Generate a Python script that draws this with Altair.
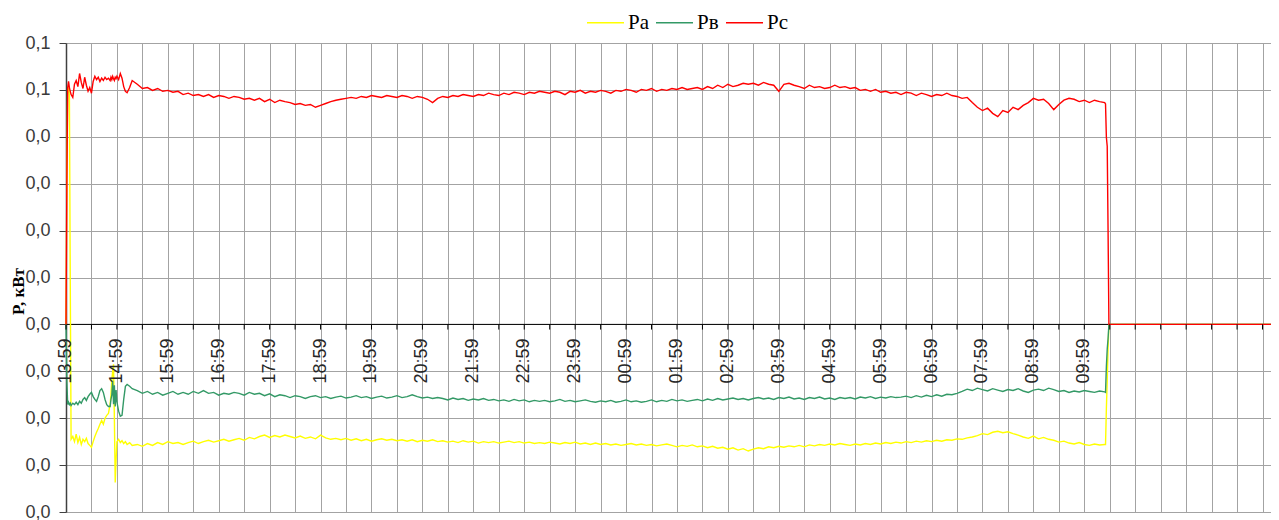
import altair as alt
import pandas as pd

# ---------------- data ----------------
series_names = ["Pa", "Pв", "Pc"]
series_colors = ["#FFFF00", "#339966", "#FF0000"]

# minutes after 13:59
early_minutes = [0, 1, 2, 3, 4, 5, 6, 8, 10, 12, 14, 16, 18, 20, 22, 24, 26, 28, 30, 32,
                 34, 36, 38, 40, 42, 44, 46, 48, 50, 52, 53, 54, 55, 56, 57, 58, 59,
                 60, 62, 64, 66, 68, 70, 72, 75, 78]
grid_minutes = list(range(84, 1225, 6))
drop_minutes = [1225, 1226, 1227, 1228, 1229, 1420]

pa_early = [0.0, 0.0300, 0.0500, 0.0505, 0.0490, 0.0100, -0.0245,
            -0.0239, -0.0250, -0.0234, -0.0252, -0.0241, -0.0256, -0.0245, -0.0250, -0.0243, -0.0254,
            -0.0258, -0.0262, -0.0250, -0.0239, -0.0230, -0.0222, -0.0213, -0.0205, -0.0213, -0.0200,
            -0.0194, -0.0190, -0.0170,
            -0.0150, -0.0120, -0.0100, -0.0085, -0.0200, -0.0337, -0.0290,
            -0.0250, -0.0245, -0.0252, -0.0248, -0.0254, -0.0250, -0.0256,
            -0.0252, -0.0258]
pa_grid = [
    -0.0256, -0.0260, -0.0254, -0.0258, -0.0252, -0.0256, -0.0250, -0.0254, -0.0252, -0.0256,
    -0.0252, -0.0249, -0.0254, -0.0250, -0.0247, -0.0251, -0.0248, -0.0245, -0.0249, -0.0246,
    -0.0243, -0.0247, -0.0241, -0.0244, -0.0239, -0.0236, -0.0241, -0.0237, -0.0240, -0.0236,
    -0.0239, -0.0242, -0.0238, -0.0243, -0.0240, -0.0244, -0.0236, -0.0242, -0.0245, -0.0243,
    -0.0246, -0.0243, -0.0247, -0.0244, -0.0248, -0.0245, -0.0249, -0.0246, -0.0244, -0.0247,
    -0.0245, -0.0248, -0.0246, -0.0249, -0.0246, -0.0250, -0.0247, -0.0249, -0.0246, -0.0250,
    -0.0248, -0.0251, -0.0249, -0.0252, -0.0248, -0.0251, -0.0249, -0.0253, -0.0250, -0.0252,
    -0.0250, -0.0253, -0.0251, -0.0249, -0.0252, -0.0250, -0.0253, -0.0251, -0.0254, -0.0252,
    -0.0254, -0.0251, -0.0253, -0.0255, -0.0252, -0.0254, -0.0251, -0.0255, -0.0253, -0.0256,
    -0.0253, -0.0256, -0.0254, -0.0257, -0.0255, -0.0258, -0.0256, -0.0254, -0.0257, -0.0255,
    -0.0258, -0.0256, -0.0259, -0.0257, -0.0255, -0.0258, -0.0261, -0.0258, -0.0260, -0.0257,
    -0.0261, -0.0259, -0.0263, -0.0260, -0.0264, -0.0262, -0.0266, -0.0263, -0.0268, -0.0265,
    -0.0270, -0.0266, -0.0263, -0.0265, -0.0261, -0.0263, -0.0260, -0.0262, -0.0259, -0.0261,
    -0.0258, -0.0261, -0.0257, -0.0259, -0.0256, -0.0258, -0.0255, -0.0257, -0.0254, -0.0256,
    -0.0258, -0.0255, -0.0257, -0.0254, -0.0256, -0.0253, -0.0255, -0.0252, -0.0254, -0.0251,
    -0.0253, -0.0250, -0.0252, -0.0249, -0.0251, -0.0248, -0.0250, -0.0247, -0.0249, -0.0246,
    -0.0247, -0.0244, -0.0245, -0.0242, -0.0240, -0.0237, -0.0233, -0.0235, -0.0230, -0.0228,
    -0.0231, -0.0229, -0.0233, -0.0236, -0.0240, -0.0243, -0.0238, -0.0244, -0.0241, -0.0245,
    -0.0247, -0.0251, -0.0249, -0.0253, -0.0255, -0.0252, -0.0256, -0.0258, -0.0255, -0.0257,
    -0.0256]
pa_drop = [-0.0256, -0.0180, -0.0120, -0.0050, 0.0, 0.0]

pb_early = [0.0, -0.0120, -0.0171, -0.0166, -0.0171, -0.0168, -0.0173,
            -0.0168, -0.0171, -0.0166, -0.0171, -0.0164, -0.0168, -0.0160, -0.0156, -0.0162, -0.0154,
            -0.0149, -0.0145, -0.0154, -0.0160, -0.0164, -0.0154, -0.0141, -0.0137, -0.0145, -0.0160,
            -0.0171, -0.0175, -0.0175,
            -0.0160, -0.0150, -0.0120, -0.0170, -0.0130, -0.0175, -0.0140,
            -0.0165, -0.0185, -0.0196, -0.0194, -0.0160, -0.0132, -0.0128,
            -0.0132, -0.0137]
pb_grid = [
    -0.0141, -0.0147, -0.0143, -0.0149, -0.0145, -0.0151, -0.0147, -0.0143, -0.0149, -0.0145,
    -0.0149, -0.0143, -0.0147, -0.0141, -0.0147, -0.0145, -0.0151, -0.0147, -0.0149, -0.0145,
    -0.0147, -0.0151, -0.0145, -0.0149, -0.0147, -0.0152, -0.0148, -0.0154, -0.0150, -0.0152,
    -0.0156, -0.0152, -0.0154, -0.0158, -0.0154, -0.0152, -0.0156, -0.0154, -0.0158, -0.0155,
    -0.0153, -0.0157, -0.0155, -0.0152, -0.0156, -0.0154, -0.0158, -0.0155, -0.0153, -0.0157,
    -0.0155, -0.0152, -0.0156, -0.0154, -0.0150, -0.0154, -0.0157, -0.0155, -0.0158, -0.0156,
    -0.0158, -0.0161, -0.0157, -0.0160, -0.0158, -0.0162, -0.0159, -0.0161, -0.0158, -0.0162,
    -0.0160, -0.0163, -0.0161, -0.0164, -0.0160, -0.0163, -0.0161, -0.0165, -0.0162, -0.0164,
    -0.0162, -0.0165, -0.0163, -0.0160, -0.0164, -0.0162, -0.0165, -0.0163, -0.0161, -0.0164,
    -0.0166, -0.0163, -0.0165, -0.0162, -0.0166, -0.0164, -0.0161, -0.0165, -0.0163, -0.0166,
    -0.0164, -0.0161, -0.0165, -0.0162, -0.0164, -0.0160, -0.0163, -0.0161, -0.0164, -0.0162,
    -0.0160, -0.0163, -0.0159, -0.0162, -0.0158, -0.0161, -0.0159, -0.0157, -0.0160, -0.0158,
    -0.0161, -0.0158, -0.0156, -0.0159, -0.0157, -0.0160, -0.0156, -0.0158, -0.0155, -0.0159,
    -0.0157, -0.0160, -0.0156, -0.0158, -0.0155, -0.0159, -0.0157, -0.0160, -0.0156, -0.0158,
    -0.0156, -0.0159, -0.0155, -0.0157, -0.0154, -0.0158, -0.0155, -0.0157, -0.0154, -0.0156,
    -0.0155, -0.0153, -0.0156, -0.0152, -0.0155, -0.0151, -0.0154, -0.0150, -0.0153, -0.0149,
    -0.0150, -0.0147, -0.0143, -0.0138, -0.0141, -0.0136, -0.0139, -0.0142, -0.0137, -0.0140,
    -0.0143, -0.0139, -0.0141, -0.0137, -0.0142, -0.0145, -0.0140, -0.0138, -0.0141, -0.0136,
    -0.0139, -0.0143, -0.0141, -0.0145, -0.0142, -0.0144, -0.0141, -0.0143, -0.0145, -0.0142,
    -0.0144]
pb_drop = [-0.0145, -0.0090, -0.0053, -0.0030, 0.0, 0.0]

pc_early = [0.0, 0.0300, 0.0505, 0.0518, 0.0505, 0.0497, 0.0490,
            0.0484, 0.0512, 0.0520, 0.0507, 0.0535, 0.0516, 0.0503, 0.0527, 0.0510, 0.0497,
            0.0505, 0.0493, 0.0518, 0.0529, 0.0522, 0.0527, 0.0518, 0.0525, 0.0520, 0.0527,
            0.0522, 0.0525, 0.0520,
            0.0527, 0.0522, 0.0529, 0.0524, 0.0520, 0.0527, 0.0524,
            0.0529, 0.0522, 0.0535, 0.0525, 0.0507, 0.0497, 0.0494,
            0.0505, 0.0520]
pc_grid = [
    0.0512, 0.0503, 0.0505, 0.0499, 0.0503, 0.0497, 0.0499, 0.0495, 0.0497, 0.0490,
    0.0493, 0.0488, 0.0490, 0.0486, 0.0490, 0.0484, 0.0488, 0.0486, 0.0482, 0.0486,
    0.0484, 0.0480, 0.0482, 0.0478, 0.0482, 0.0475, 0.0480, 0.0473, 0.0478, 0.0475,
    0.0473, 0.0469, 0.0471, 0.0467, 0.0469, 0.0463, 0.0467, 0.0471, 0.0475, 0.0478,
    0.0480, 0.0482, 0.0484, 0.0482, 0.0486, 0.0484, 0.0488, 0.0486, 0.0484, 0.0488,
    0.0486, 0.0484, 0.0488, 0.0486, 0.0482, 0.0486, 0.0484, 0.0480, 0.0473, 0.0482,
    0.0486, 0.0484, 0.0488, 0.0486, 0.0490, 0.0488, 0.0486, 0.0490, 0.0488, 0.0493,
    0.0490, 0.0488, 0.0493, 0.0490, 0.0495, 0.0493, 0.0490, 0.0495, 0.0493, 0.0497,
    0.0495, 0.0493, 0.0497, 0.0495, 0.0490, 0.0497, 0.0495, 0.0499, 0.0493, 0.0497,
    0.0495, 0.0499, 0.0497, 0.0493, 0.0499, 0.0497, 0.0501, 0.0499, 0.0495, 0.0501,
    0.0499, 0.0503, 0.0497, 0.0501, 0.0499, 0.0503, 0.0501, 0.0505, 0.0501, 0.0503,
    0.0505, 0.0501, 0.0507, 0.0503, 0.0510, 0.0505, 0.0512, 0.0507, 0.0510, 0.0514,
    0.0512, 0.0514, 0.0510, 0.0516, 0.0512, 0.0510, 0.0497, 0.0512, 0.0514, 0.0510,
    0.0507, 0.0503, 0.0510, 0.0505, 0.0507, 0.0503, 0.0505, 0.0510, 0.0505, 0.0507,
    0.0503, 0.0505, 0.0499, 0.0501, 0.0497, 0.0501, 0.0495, 0.0497, 0.0493, 0.0495,
    0.0490, 0.0495, 0.0493, 0.0488, 0.0493, 0.0490, 0.0486, 0.0490, 0.0488, 0.0493,
    0.0488, 0.0486, 0.0482, 0.0484, 0.0473, 0.0463, 0.0456, 0.0461, 0.0450, 0.0443,
    0.0456, 0.0452, 0.0463, 0.0458, 0.0467, 0.0473, 0.0482, 0.0478, 0.0480, 0.0471,
    0.0458, 0.0469, 0.0478, 0.0482, 0.0480, 0.0475, 0.0478, 0.0473, 0.0478, 0.0475,
    0.0473]
pc_drop = [0.0470, 0.0399, 0.0380, 0.0200, 0.0, 0.0]

hour_labels = ["13:59", "14:59", "15:59", "16:59", "17:59", "18:59", "19:59", "20:59",
               "21:59", "22:59", "23:59", "00:59", "01:59", "02:59", "03:59", "04:59",
               "05:59", "06:59", "07:59", "08:59", "09:59"]
hour_minutes = [60 * i for i in range(len(hour_labels))]
tick_minutes = list(range(0, 1411, 30))
y_ticks = [-0.04, -0.03, -0.02, -0.01, 0.0, 0.01, 0.02, 0.03, 0.04, 0.05, 0.06]

minutes = early_minutes + grid_minutes + drop_minutes
series_values = {
    "Pa": pa_early + pa_grid + pa_drop,
    "Pв": pb_early + pb_grid + pb_drop,
    "Pc": pc_early + pc_grid + pc_drop,
}
rows = []
for name in series_names:
    vals = series_values[name]
    assert len(vals) == len(minutes), (name, len(vals), len(minutes))
    for t, v in zip(minutes, vals):
        rows.append({"t": t, "value": v, "series": name})
df = pd.DataFrame(rows)

# ---------------- chart ----------------
x_scale = alt.Scale(domain=[0, 1420], nice=False, zero=False)
y_scale = alt.Scale(domain=[-0.04, 0.06], nice=False, zero=False)

x_axis = alt.Axis(values=tick_minutes, grid=True, labels=False, ticks=False,
                  domain=False, title=None, gridColor="#a3a3a3", gridWidth=1)
y_axis = alt.Axis(values=y_ticks, labelExpr="datum.value > 0.045 ? '0,1' : '0,0'",
                  grid=True, gridColor="#a3a3a3", gridWidth=1,
                  domain=True, domainColor="#404040", domainWidth=1.5,
                  ticks=True, tickColor="#404040", tickSize=7,
                  labelFont="Liberation Sans", labelFontSize=18, labelColor="#3a3a3a",
                  labelPadding=9,
                  title="P, кВт", titleFont="Liberation Serif", titleFontSize=17,
                  titleFontWeight="bold", titleColor="#000000",
                  titleAngle=270, titleX=-48, titleY=248,
                  titleAlign="center", titleBaseline="middle")

color = alt.Color(
    "series:N",
    scale=alt.Scale(domain=series_names, range=series_colors),
    legend=alt.Legend(orient="none", legendX=520, legendY=-40, direction="horizontal",
                      title=None, symbolType="stroke", symbolSize=1369,
                      symbolStrokeWidth=1.5, labelFont="Liberation Serif",
                      labelFontSize=21, labelColor="#000000", labelOffset=3,
                      columnPadding=4),
)

base = alt.Chart(df)
line_layers = []
for name in series_names:
    line_layers.append(
        base.transform_filter(alt.datum.series == name)
        .mark_line(strokeWidth=1.4)
        .encode(
            x=alt.X("t:Q", scale=x_scale, axis=x_axis),
            y=alt.Y("value:Q", scale=y_scale, axis=y_axis),
            color=color,
        )
    )

zero_df = pd.DataFrame({"t": [0], "t2": [1420], "value": [0.0]})
zero_line = alt.Chart(zero_df).mark_rule(color="#000000", strokeWidth=1).encode(
    x=alt.X("t:Q", scale=x_scale, axis=x_axis),
    x2="t2:Q",
    y=alt.Y("value:Q", scale=y_scale, axis=y_axis),
)

tick_df = pd.DataFrame({"t": tick_minutes, "value": [0.0] * len(tick_minutes),
                        "value2": [-0.0011] * len(tick_minutes)})
tick_marks = alt.Chart(tick_df).mark_rule(color="#000000", strokeWidth=1).encode(
    x=alt.X("t:Q", scale=x_scale, axis=x_axis),
    y=alt.Y("value:Q", scale=y_scale, axis=y_axis),
    y2="value2:Q",
)

label_df = pd.DataFrame({"t": hour_minutes, "label": hour_labels,
                         "value": [0.0] * len(hour_labels)})
hour_text = alt.Chart(label_df).mark_text(
    angle=270, align="right", baseline="middle", dx=-14,
    font="Liberation Sans", fontSize=18, color="#262626",
).encode(
    x=alt.X("t:Q", scale=x_scale, axis=x_axis),
    y=alt.Y("value:Q", scale=y_scale, axis=y_axis),
    text="label:N",
)

chart = alt.layer(zero_line, *line_layers, tick_marks, hour_text).properties(
    width=1205, height=469,
    padding={"left": 58, "top": 35, "right": 0, "bottom": 9},
    autosize=alt.AutoSizeParams(type="none"),
).configure_view(stroke=None).configure(background="#ffffff")

chart.save("out.html", embed_options={"renderer": "svg", "actions": False})
